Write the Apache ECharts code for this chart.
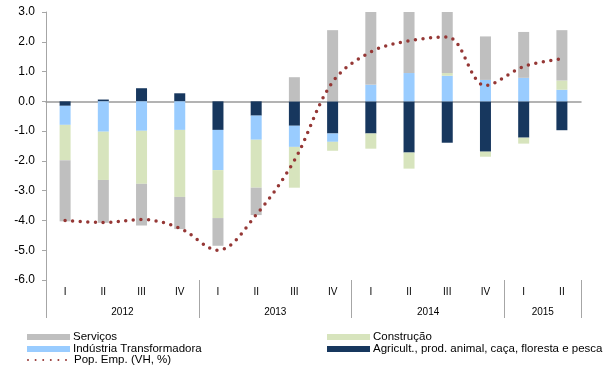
<!DOCTYPE html>
<html>
<head>
<meta charset="utf-8">
<script src="https://cdn.jsdelivr.net/npm/echarts@6/dist/echarts.min.js"></script>
<style>html,body{margin:0;padding:0;background:#fff}#c{width:616px;height:367px}</style>
</head>
<body>
<div id="c"></div>
<script>
var quarters = ['I','II','III','IV','I','II','III','IV','I','II','III','IV','I','II'];
var years = ['2012','2013','2014','2015'];
var yearMid = [2, 6, 10, 13];
var yearBounds = [0, 4, 8, 12, 14];
var servicos = [-2.05, -1.44, -1.40, -1.08, -0.93, -0.92, 0.81, 2.39, 2.50, 2.15, 2.10, 1.46, 1.54, 1.69];
var construcao = [-1.19, -1.62, -1.78, -2.25, -1.61, -1.61, -1.37, -0.30, -0.51, -0.54, 0.09, -0.17, -0.20, 0.31];
var industria = [-0.64, -1.02, -0.99, -0.96, -1.35, -0.81, -0.71, -0.28, 0.56, 0.95, 0.86, 0.72, 0.79, 0.39];
var agricultura = [-0.15, 0.06, 0.44, 0.27, -0.96, -0.48, -0.82, -1.08, -1.08, -1.72, -1.39, -1.69, -1.22, -0.97];
var popEmp = [-4.00, -4.07, -3.97, -4.26, -5.00, -3.81, -1.98, 0.65, 1.66, 2.03, 2.16, 0.53, 1.17, 1.43];

var names = {
  serv: 'Serviços',
  cons: 'Construção',
  ind: 'Indústria Transformadora',
  agr: 'Agricult., prod. animal, caça, floresta e pesca',
  pop: 'Pop. Emp. (VH, %)'
};
var FONT = 'Liberation Sans, Arial, sans-serif';
var chart = echarts.init(document.getElementById('c'));
var legendText = { fontFamily: FONT, fontSize: 11.5, color: '#000', lineHeight: 11, padding: [0, 0, 0, -2] };
chart.setOption({
  animation: false,
  grid: { left: 46, right: 35, top: 12, bottom: 87 },
  legend: [
    { orient: 'vertical', left: 22, top: 326, height: 30, itemWidth: 43, itemHeight: 6, itemGap: 0,
      icon: 'rect', textStyle: legendText, selectedMode: false,
      data: [names.serv, names.ind] },
    { orient: 'vertical', left: 22, top: 349, height: 14, itemWidth: 43, itemHeight: 6, itemGap: 0,
      textStyle: legendText, selectedMode: false,
      itemStyle: { color: 'rgba(0,0,0,0)', borderWidth: 0 },
      data: [names.pop] },
    { orient: 'vertical', left: 322, top: 326, height: 30, itemWidth: 43, itemHeight: 6, itemGap: 0,
      icon: 'rect', textStyle: legendText, selectedMode: false,
      data: [names.cons, names.agr] }
  ],
  xAxis: [
    { type: 'category', data: quarters, position: 'bottom',
      axisLine: { show: false, onZero: false }, axisTick: { show: false },
      axisLabel: { fontFamily: FONT, fontSize: 10, color: '#000', margin: 7 } },
    { type: 'value', min: 0, max: 14, position: 'bottom',
      axisLine: { show: false, onZero: false }, splitLine: { show: false },
      axisTick: { show: true, customValues: yearBounds, length: 38, lineStyle: { color: '#a6a6a6', width: 1 } },
      axisLabel: { customValues: yearMid, margin: 27, fontFamily: FONT, fontSize: 10, color: '#000',
        formatter: function (v) { var i = yearMid.indexOf(v); return i >= 0 ? years[i] : ''; } } },
    { type: 'category', data: quarters, position: 'bottom',
      axisLine: { show: true, onZero: true, lineStyle: { color: '#9a9a9a', width: 1.5 } },
      axisTick: { show: false }, axisLabel: { show: false } }
  ],
  yAxis: {
    type: 'value', min: -6, max: 3, interval: 1,
    axisLine: { show: true, lineStyle: { color: '#a6a6a6' } },
    axisTick: { show: true, length: 4, lineStyle: { color: '#a6a6a6' } },
    splitLine: { show: false },
    axisLabel: { fontFamily: FONT, fontSize: 12, color: '#000', margin: 11,
      formatter: function (v) { return v.toFixed(1); } }
  },
  series: [
    { name: names.agr, type: 'bar', stack: 's', barWidth: 11, data: agricultura, itemStyle: { color: '#17375E' } },
    { name: names.ind, type: 'bar', stack: 's', barWidth: 11, data: industria, itemStyle: { color: '#99CCFF' } },
    { name: names.cons, type: 'bar', stack: 's', barWidth: 11, data: construcao, itemStyle: { color: '#D7E4BD' } },
    { name: names.serv, type: 'bar', stack: 's', barWidth: 11, data: servicos, itemStyle: { color: '#BFBFBF' } },
    { name: names.pop, type: 'line', data: popEmp, smooth: 0.35, symbol: 'none', z: 5,
      itemStyle: { color: '#953735' },
      lineStyle: { color: '#953735', width: 3.5, type: [0, 7.6], cap: 'round' } }
  ]
});
</script>
</body>
</html>
